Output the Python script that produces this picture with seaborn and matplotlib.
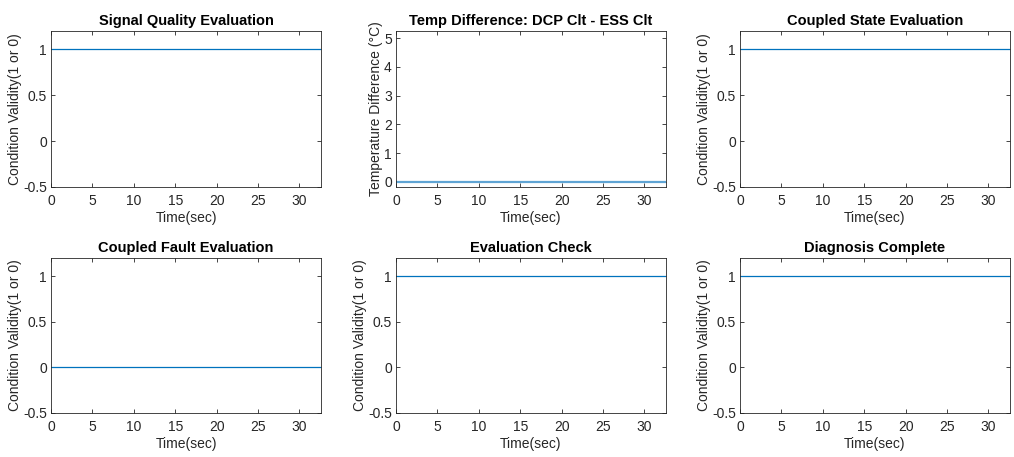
import matplotlib
matplotlib.use("Agg")
import matplotlib.pyplot as plt
import seaborn as sns
import pandas as pd

sns.set_theme(style="white")
plt.rcParams['font.family'] = ['Liberation Sans', 'DejaVu Sans']

time_sec = [0.0, 32.6]
signal_quality = [1, 1]
temp_difference = [0, 0]
coupled_state = [1, 1]
coupled_fault = [0, 0]
evaluation_check = [1, 1]
diagnosis_complete = [1, 1]

titles = ["Signal Quality Evaluation", "Temp Difference: DCP Clt - ESS Clt",
          "Coupled State Evaluation", "Coupled Fault Evaluation",
          "Evaluation Check", "Diagnosis Complete"]
series = [signal_quality, temp_difference, coupled_state,
          coupled_fault, evaluation_check, diagnosis_complete]
ylabels = ["Condition Validity(1 or 0)", "Temperature Difference (\u00b0C)",
           "Condition Validity(1 or 0)", "Condition Validity(1 or 0)",
           "Condition Validity(1 or 0)", "Condition Validity(1 or 0)"]

W, H = 1014, 457
fig = plt.figure(figsize=(W / 100, H / 100), dpi=100)
lefts = [51, 396, 740]
rights = [321, 666, 1010]
tops = [31, 258]
bottoms = [187, 413]
axc = "#262626"
blue = "#0072BD"

for i in range(6):
    r, c = divmod(i, 3)
    ax = fig.add_axes([lefts[c] / W, 1 - bottoms[r] / H,
                       (rights[c] - lefts[c]) / W, (bottoms[r] - tops[r]) / H])
    df = pd.DataFrame({"t": time_sec, "v": series[i]})
    lw = 1.6 if i == 1 else 0.9
    col = "#5fa4d4" if i == 1 else blue
    sns.lineplot(data=df, x="t", y="v", ax=ax, color=col, linewidth=lw)
    ax.set_xlim(0, 32.6)
    if i == 1:
        ax.set_ylim(-0.18, 5.25)
        ax.set_yticks([0, 1, 2, 3, 4, 5])
        ax.set_yticklabels(["0", "1", "2", "3", "4", "5"])
    else:
        ax.set_ylim(-0.5, 1.2)
        ax.set_yticks([-0.5, 0, 0.5, 1])
        ax.set_yticklabels(["-0.5", "0", "0.5", "1"])
    ax.set_xticks([0, 5, 10, 15, 20, 25, 30])
    ax.set_xticklabels(["0", "5", "10", "15", "20", "25", "30"])
    ax.set_title(titles[i], fontsize=10.5, fontweight="bold", color="black", pad=4)
    ax.set_xlabel("Time(sec)", fontsize=10, color=axc, labelpad=2)
    ax.set_ylabel(ylabels[i], fontsize=10, color=axc, labelpad=1)
    for s in ax.spines.values():
        s.set_color(axc)
        s.set_linewidth(0.6)
    ax.tick_params(direction="in", length=3, width=0.6, colors=axc, labelsize=10,
                   top=True, right=True, bottom=True, left=True)
    ax.tick_params(axis="x", pad=5)
    ax.tick_params(axis="y", pad=3)
    for lab in ax.get_xticklabels() + ax.get_yticklabels():
        lab.set_color(axc)

fig.savefig("out.png", dpi=100)
